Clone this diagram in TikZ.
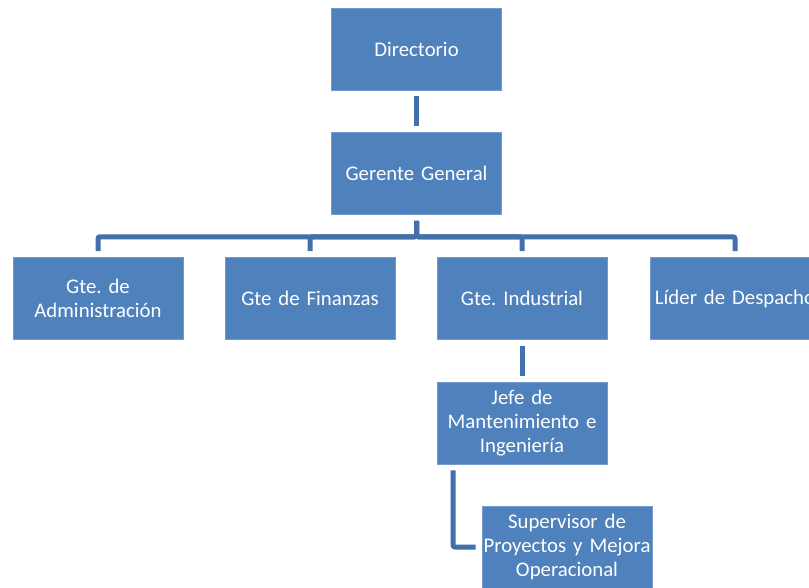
\documentclass[tikz,border=0pt]{standalone}
\usepackage{fontspec}
\setmainfont{Carlito}
\frenchspacing
\definecolor{boxfill}{RGB}{79,129,189}
\definecolor{boxedge}{RGB}{115,155,208}
\definecolor{connc}{RGB}{66,112,168}
\begin{document}
\begin{tikzpicture}[x=1pt,y=-1pt,
  orgbox/.style={rectangle, fill=boxfill, draw=boxedge, line width=0.6pt,
    minimum width=170pt, minimum height=82pt, text width=168pt, align=center,
    text=white, inner sep=0pt, font=\fontsize{20.8}{23.6}\selectfont},
  conn/.style={draw=connc, line width=5pt, shorten <=6pt, shorten >=6pt, rounded corners=2pt}]
\useasboundingbox (0,0) rectangle (809,588);
\clip (0,0) rectangle (809,588);
\fill[white] (0,0) rectangle (809,588);
\node[orgbox] (dir) at (416.5,49) {Directorio};
\node[orgbox] (gg) at (416.5,173.5) {Gerente General};
\node[orgbox] (adm) at (98,298.5) {Gte. de\\Administración};
\node[orgbox] (fin) at (310,298.5) {Gte de Finanzas};
\node[orgbox] (ind) at (522,298.5) {Gte. Industrial};
\node[orgbox] (lid) at (735,298.5) {Líder de Despacho};
\node[orgbox] (jef) at (522,423) {Jefe de\\Mantenimiento e\\Ingeniería};
\node[orgbox] (sup) at (567,547) {Supervisor de\\Proyectos y Mejora\\Operacional};
\coordinate (jx) at (453,0);
\draw[conn] (dir) -- (gg);
\draw[conn] (gg.south) -- ++(0,22) -| (adm.north);
\draw[conn] (gg.south) -- ++(0,22) -| (fin.north);
\draw[conn] (gg.south) -- ++(0,22) -| (ind.north);
\draw[conn] (gg.south) -- ++(0,22) -| (lid.north);
\draw[conn] (ind) -- (jef);
\draw[conn] (jx |- jef.south) |- (sup.west);
\end{tikzpicture}
\end{document}
